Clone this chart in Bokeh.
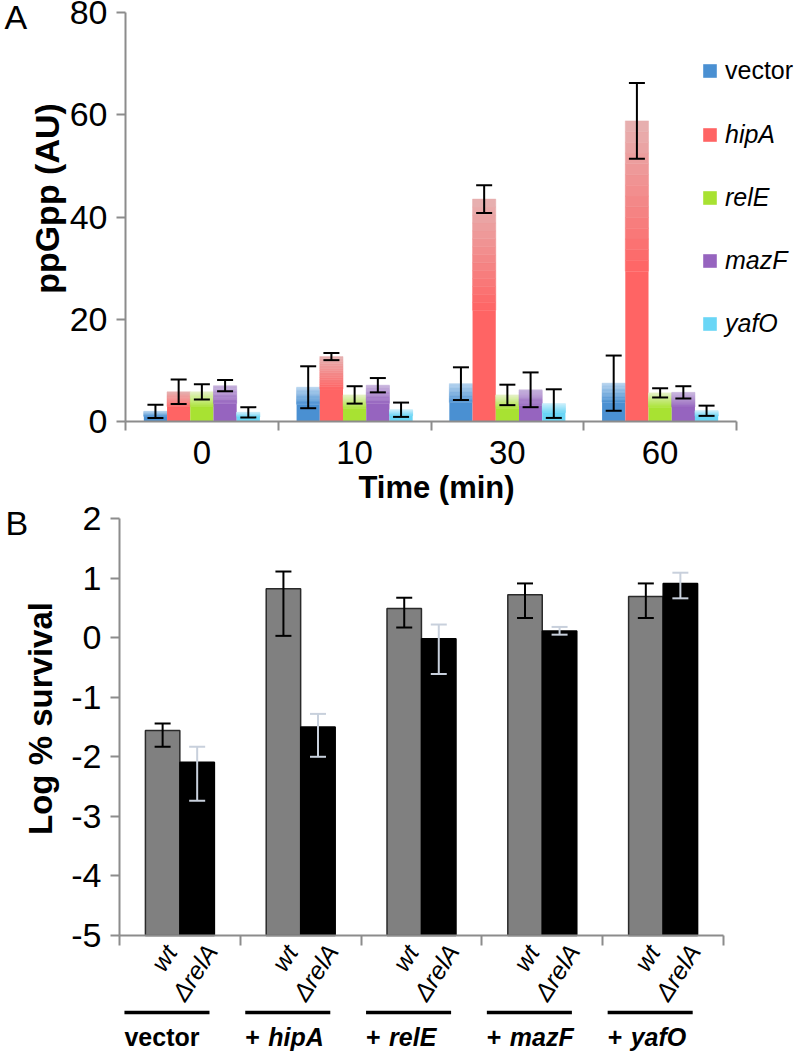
import numpy as np
from bokeh.plotting import figure
from bokeh.models import (ColumnDataSource, FixedTicker, Legend, LegendItem,
                          Whisker, TeeHead, Range1d)
from bokeh.layouts import column
from bokeh.embed import file_html
from bokeh.resources import INLINE
from bokeh.core.properties import value

FONT = "Liberation Sans"
AXIS_GRAY = "#8c8c8c"

# ---------------- Panel A data ----------------
times = ["0", "10", "30", "60"]
series_a = ["vector", "hipA", "relE", "mazF", "yafO"]
vector = [2.0, 6.7, 7.4, 7.5]
vector_err = [1.3, 4.1, 3.2, 5.4]
hipA = [5.8, 12.7, 43.5, 58.8]
hipA_err = [2.4, 0.7, 2.7, 7.4]
relE = [5.8, 5.2, 5.2, 5.6]
relE_err = [1.5, 1.7, 2.0, 0.9]
mazF = [7.0, 7.1, 6.2, 5.7]
mazF_err = [1.1, 1.4, 3.4, 1.2]
yafO = [1.8, 2.3, 3.5, 2.1]
yafO_err = [1.0, 1.4, 2.8, 1.0]
a_values = [vector, hipA, relE, mazF, yafO]
a_errors = [vector_err, hipA_err, relE_err, mazF_err, yafO_err]
a_colors = ["#4a90d2", "#ff6464", "#a8e232", "#9664bf", "#6ad6f6"]
a_tops = ["#b4d2ee", "#e6b2b2", "#e4f2c6", "#c6b2dc", "#c8eefb"]
a_yticks = [0, 20, 40, 60, 80]

# ---------------- Panel B data ----------------
groups = ["vector", "hipA", "relE", "mazF", "yafO"]
group_prefix = ["", "+", "+", "+", "+"]
strains = ["wt", "\u0394relA"]
wt = [-1.56, 0.82, 0.49, 0.72, 0.69]
wt_hi = [-1.44, 1.11, 0.67, 0.91, 0.91]
wt_lo = [-1.83, 0.03, 0.17, 0.33, 0.33]
rela = [-2.09, -1.50, -0.02, 0.11, 0.91]
rela_hi = [-1.83, -1.28, 0.22, 0.18, 1.09]
rela_lo = [-2.74, -2.00, -0.61, 0.05, 0.66]
b_yticks = [-5, -4, -3, -2, -1, 0, 1, 2]

# ---------------- layout constants (pixels on the page) ----------------
W = 797
A_H = 506
B_H = 546
A_LEFT, A_CAT_PX, A_TOP, A_UNIT_PX = 125, 152.75, 12, 409 / 80
B_LEFT, B_GRP_PX, B_TOP, B_UNIT_PX = 119, 120.8, 518, 417 / 7
B_Y0 = A_H  # page y where panel B canvas starts


def ax(px): return 0.5 + (px - A_LEFT) / A_CAT_PX
def ay(py): return a_yticks[-1] - (py - A_TOP) / A_UNIT_PX
def bx(px): return 0.5 + (px - B_LEFT) / B_GRP_PX
def by(py): return b_yticks[-1] - (py - B_TOP) / B_UNIT_PX


def hex2rgb(h):
    h = h.lstrip("#")
    return [int(h[i:i + 2], 16) for i in (0, 2, 4)]


def mix(c1, c2, t):
    a, b = hex2rgb(c1), hex2rgb(c2)
    return "#%02x%02x%02x" % tuple(int(round(a[i] + (b[i] - a[i]) * t)) for i in range(3))


def style_axis(axis, size="33px"):
    axis.axis_line_color = AXIS_GRAY
    axis.axis_line_width = 2
    axis.major_tick_line_color = AXIS_GRAY
    axis.major_tick_line_width = 2
    axis.minor_tick_line_color = AXIS_GRAY
    axis.minor_tick_line_width = 2
    axis.major_label_text_font = FONT
    axis.major_label_text_font_size = size
    axis.major_label_text_color = "black"


def bare_fig(h, xr, yr):
    p = figure(width=W, height=h, x_range=xr, y_range=yr, output_backend="svg",
               toolbar_location=None, min_border=0, min_border_left=0, min_border_right=0,
               min_border_top=0, min_border_bottom=0)
    p.xgrid.visible = False
    p.ygrid.visible = False
    p.outline_line_color = None
    return p


def txt(p, x, y, t, size, style="normal", align="left", angle=0.0, x_offset=0):
    # y is the vertical middle of the text line
    p.text(x=x, y=y, text=t, angle=angle, x_offset=x_offset,
           text_font=value(FONT), text_font_size=size, text_font_style=style,
           text_color="black", text_align=align, text_baseline="middle")


# ================= Panel A =================
pa = bare_fig(A_H, Range1d(ax(0), ax(W)), Range1d(ay(A_H), ay(0)))

bw = 0.152
NSL = 14
legend_renderers = []
for si, name in enumerate(series_a):
    off = (si - 2) * bw
    xs = [i + 1 + off for i in range(len(times))]
    vals = a_values[si]
    errs = a_errors[si]
    base = a_colors[si]
    r = pa.quad(left=[x - bw / 2 for x in xs], right=[x + bw / 2 for x in xs],
                bottom=[0] * len(vals), top=[v / 2 for v in vals],
                fill_color=base, line_color=None)
    legend_renderers.append(r)
    L, R, B, T, C = [], [], [], [], []
    for x, v in zip(xs, vals):
        for k in range(NSL):
            L.append(x - bw / 2); R.append(x + bw / 2)
            B.append(v / 2 + v / 2 * k / NSL)
            T.append(v / 2 + v / 2 * (k + 1) / NSL)
            C.append(mix(base, a_tops[si], (k + 0.5) / NSL))
    pa.quad(left=L, right=R, bottom=B, top=T, fill_color=C, line_color=C, line_width=0.5)
    src = ColumnDataSource(dict(x=xs, upper=[v + e for v, e in zip(vals, errs)],
                                lower=[v - e for v, e in zip(vals, errs)]))
    pa.add_layout(Whisker(source=src, base="x", upper="upper", lower="lower",
                          line_color="black", line_width=2, level="overlay",
                          upper_head=TeeHead(size=16, line_color="black", line_width=2),
                          lower_head=TeeHead(size=16, line_color="black", line_width=2)))

xa = pa.xaxis[0]
style_axis(xa, "33px")
xa.fixed_location = 0
xa.bounds = (0.5, len(times) + 0.5)
xa.ticker = FixedTicker(ticks=[i + 1 for i in range(len(times))],
                        minor_ticks=[i + 0.5 for i in range(len(times) + 1)])
xa.major_label_overrides = {i + 1: t for i, t in enumerate(times)}
xa.major_tick_in = 0
xa.major_tick_out = 0
xa.minor_tick_in = 0
xa.minor_tick_out = 9
xa.major_label_standoff = 10

ya = pa.yaxis[0]
style_axis(ya, "34px")
ya.fixed_location = 0.5
ya.bounds = (a_yticks[0], a_yticks[-1])
ya.ticker = FixedTicker(ticks=a_yticks, minor_ticks=[])
ya.major_tick_in = 0
ya.major_tick_out = 9
ya.major_label_standoff = 9

txt(pa, [ax(436)], [ay(487)], ["Time (min)"], "31px", "bold", align="center")
txt(pa, [ax(46)], [ay(198)], ["ppGpp (AU)"], "34px", "bold", align="center", angle=np.pi / 2)
txt(pa, [ax(4)], [ay(16)], ["A"], "34px")

leg1 = Legend(items=[LegendItem(label=series_a[0], renderers=[legend_renderers[0]])],
              location=(701, A_H - 85))
leg2 = Legend(items=[LegendItem(label=n, renderers=[legend_renderers[i + 1]])
                     for i, n in enumerate(series_a[1:])],
              location=(701, A_H - 338))
for lg, style in ((leg1, "normal"), (leg2, "italic")):
    lg.margin = 0
    lg.padding = 0
    lg.background_fill_alpha = 0
    lg.border_line_color = None
    lg.glyph_width = 17
    lg.glyph_height = 17
    lg.label_standoff = 7
    lg.label_height = 30
    lg.spacing = 33
    lg.label_text_font = FONT
    lg.label_text_font_size = "25px"
    lg.label_text_font_style = style
    lg.label_text_color = "black"
    pa.add_layout(lg)

# ================= Panel B =================
pb = bare_fig(B_H, Range1d(bx(0), bx(W)), Range1d(by(B_Y0 + B_H), by(B_Y0)))

bwb = 0.285
offs = [-0.143, 0.143]
gx = [i + 1 for i in range(len(groups))]
wt_x = [g + offs[0] for g in gx]
ra_x = [g + offs[1] for g in gx]
pb.vbar(x=wt_x, width=bwb, top=wt, bottom=b_yticks[0], fill_color="#808080",
        line_color="#2a2a2a", line_width=1.5)
pb.vbar(x=ra_x, width=bwb, top=rela, bottom=b_yticks[0], fill_color="black",
        line_color="black", line_width=1.5)

for xs, hi, lo, col in ((wt_x, wt_hi, wt_lo, "black"), (ra_x, rela_hi, rela_lo, "#c8d0dc")):
    src = ColumnDataSource(dict(x=xs, upper=hi, lower=lo))
    pb.add_layout(Whisker(source=src, base="x", upper="upper", lower="lower",
                          line_color=col, line_width=2, level="overlay",
                          upper_head=TeeHead(size=16, line_color=col, line_width=2),
                          lower_head=TeeHead(size=16, line_color=col, line_width=2)))

xb = pb.xaxis[0]
style_axis(xb, "1px")
xb.fixed_location = b_yticks[0]
xb.bounds = (0.5, len(groups) + 0.5)
bounds = [i + 0.5 for i in range(len(groups) + 1)]
xb.ticker = FixedTicker(ticks=bounds, minor_ticks=[])
xb.major_label_overrides = {b: "" for b in bounds}
xb.major_label_standoff = 0
xb.major_tick_in = 0
xb.major_tick_out = 10

yb = pb.yaxis[0]
style_axis(yb, "34px")
yb.fixed_location = 0.5
yb.bounds = (b_yticks[0], b_yticks[-1])
yb.ticker = FixedTicker(ticks=b_yticks, minor_ticks=[])
yb.major_label_overrides = {v: str(v) for v in b_yticks}
yb.major_tick_in = 0
yb.major_tick_out = 9
yb.major_label_standoff = 9

txt(pb, [bx(40)], [by(718)], ["Log % survival"], "33px", "bold", align="center",
    angle=np.pi / 2)
txt(pb, [bx(5)], [by(522)], ["B"], "34px")

# rotated strain labels under each bar
txt(pb, wt_x, [by(947)] * len(wt_x), [strains[0]] * len(wt_x), "25px", "italic",
    align="right", angle=np.radians(57), x_offset=8)
txt(pb, ra_x, [by(946)] * len(ra_x), [strains[1]] * len(ra_x), "25px", "italic",
    align="right", angle=np.radians(57), x_offset=14)

# group underlines and group names
left_x = [g - 0.459 for g in gx]
pb.segment(x0=left_x, x1=[g + 0.245 for g in gx], y0=[by(1012)] * len(gx),
           y1=[by(1012)] * len(gx), line_color="black", line_width=3.5)
plain = [i for i, p in enumerate(group_prefix) if p == ""]
plus = [i for i, p in enumerate(group_prefix) if p != ""]
txt(pb, [left_x[i] for i in plain], [by(1036)] * len(plain), [groups[i] for i in plain],
    "25px", "bold")
txt(pb, [left_x[i] for i in plus], [by(1036)] * len(plus), [group_prefix[i] for i in plus],
    "25px", "bold")
txt(pb, [left_x[i] for i in plus], [by(1036)] * len(plus), [groups[i] for i in plus],
    "25px", "bold italic", x_offset=23)

layout = column(pa, pb, spacing=0)
open("out.html", "w").write(file_html(layout, INLINE))
